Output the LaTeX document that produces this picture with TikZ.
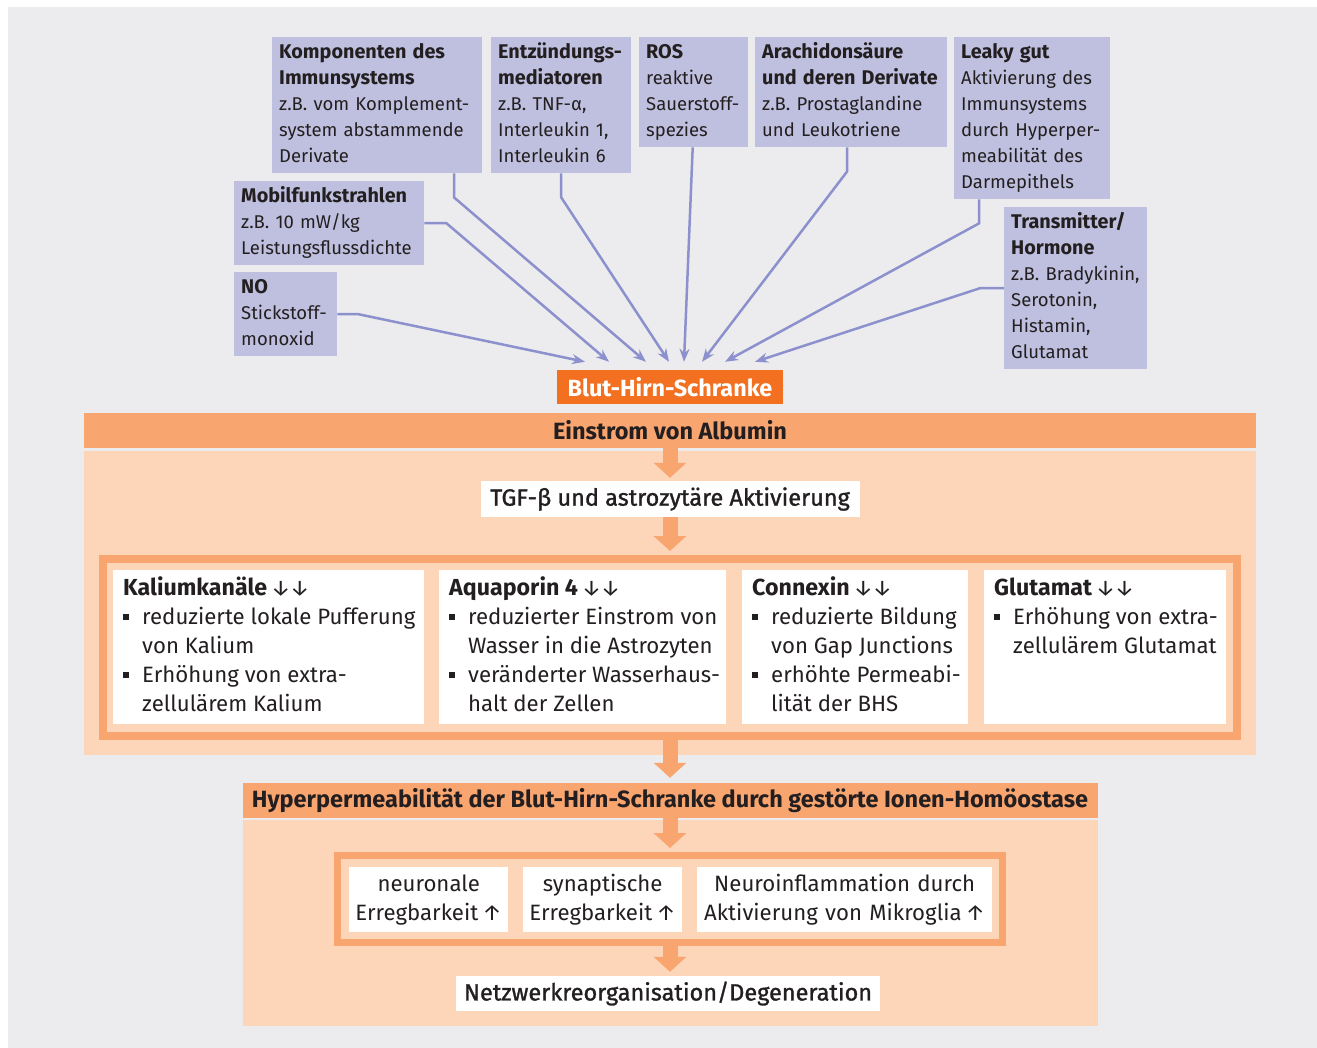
\documentclass[tikz,border=0pt]{standalone}
\usepackage{fontspec}
\setmainfont{Fira Sans}
\newfontfamily\mediumfont[FakeBold=1.2]{Fira Sans}
\usetikzlibrary{arrows.meta}
\definecolor{bggray}{RGB}{236,236,238}
\definecolor{causefill}{RGB}{191,192,223}
\definecolor{linkcol}{RGB}{140,144,204}
\definecolor{bhsorange}{RGB}{243,112,33}
\definecolor{midorange}{RGB}{249,165,112}
\definecolor{lightorange}{RGB}{253,213,184}
\definecolor{ink}{RGB}{35,31,32}
\newcommand{\causefont}{\fontsize{18.5}{26}\selectfont}
\newcommand{\cellfont}{\fontsize{22.2}{29}\selectfont}
\newcommand{\hd}[1]{{\fontsize{19.8}{26}\selectfont\bfseries #1}}
\newcommand{\chd}[1]{{\fontsize{23.2}{29}\selectfont\bfseries #1}\,↓\kern-1pt↓}
\newcommand{\rows}[1]{\begin{tabular}{@{}l@{}}#1\end{tabular}}
\newcommand{\bpt}{\makebox[19pt][l]{\rule[0.2em]{6pt}{6pt}}}
\newcommand{\cnt}{\hspace*{19pt}}
\tikzset{
    cause/.style = {fill=causefill, anchor=north west, align=left, inner xsep=7pt, inner ysep=3pt, text=ink, font=\causefont},
    barrier/.style = {fill=bhsorange, text=white, minimum width=226pt, minimum height=34pt, inner sep=0pt, font=\bfseries\fontsize{23.4}{26}\selectfont},
    band/.style = {fill=midorange, text=ink, minimum height=35pt, inner sep=0pt, font=\bfseries\fontsize{23.5}{26}\selectfont},
    stage/.style = {fill=white, text=ink, minimum height=36pt, inner sep=0pt, font=\mediumfont\fontsize{23.5}{26}\selectfont},
    ringbox/.style = {draw=midorange, line width=8pt, inner sep=0pt},
    cell/.style = {fill=white, anchor=north west, inner xsep=10pt, inner ysep=5pt, text=ink, font=\cellfont},
    effect/.style = {fill=white, anchor=north west, align=center, minimum height=65pt, inner xsep=4pt, inner ysep=0pt, text=ink, font=\cellfont},
    link/.style = {draw=linkcol, line width=2.5pt, -{Stealth[length=13pt,width=10pt]}},
    flow/.style = {draw=midorange, line width=15pt, -{Triangle[length=15pt,width=32pt]}}
}
\begin{document}
\begin{tikzpicture}[x=1pt,y=-1pt]
\useasboundingbox (0,0) rectangle (1317,1048);
\fill[white] (0,0) rectangle (1317,1048);
\fill[bggray] (8,7) rectangle (1317,1048);
\fill[lightorange] (84,451) rectangle (1256,755);
\fill[lightorange] (243,820) rectangle (1098,1026);

\node (komp) [cause, text width=196pt, minimum height=136pt] at (272,37) {\rows{\hd{Komponenten des}\\ \hd{Immunsystems}\\ z.B. vom Komplement-\\ system abstammende\\ Derivate}};
\node (entz) [cause, text width=126pt, minimum height=136pt] at (491,37) {\rows{\hd{Entzündungs-}\\ \hd{mediatoren}\\ z.B. TNF-α,\\ Interleukin 1,\\ Interleukin 6}};
\node (ros) [cause, text width=95pt, minimum height=110pt] at (639,37) {\rows{\hd{ROS}\\ reaktive\\ Sauerstoff-\\ spezies}};
\node (arach) [cause, text width=178pt, minimum height=110pt] at (755,37) {\rows{\hd{Arachidonsäure}\\ \hd{und deren Derivate}\\ z.B. Prostaglandine\\ und Leukotriene}};
\node (leaky) [cause, text width=142pt, minimum height=162pt] at (954,37) {\rows{\hd{Leaky gut}\\ Aktivierung des\\ Immunsystems\\ durch Hyperper-\\ meabilität des\\ Darmepithels}};
\node (trans) [cause, text width=129pt, minimum height=162pt] at (1004,207) {\rows{\hd{Transmitter/}\\ \hd{Hormone}\\ z.B. Bradykinin,\\ Serotonin,\\ Histamin,\\ Glutamat}};
\node (mobil) [cause, text width=176pt, minimum height=84pt] at (234,181) {\rows{\hd{Mobilfunkstrahlen}\\ z.B. 10 mW/kg\\ Leistungsflussdichte}};
\node (no) [cause, text width=89pt, minimum height=83pt] at (234,272) {\rows{\hd{NO}\\ Stickstoff-\\ monoxid}};

\node (bhs) [barrier] at (670,387) {Blut-Hirn-Schranke};

\draw [link] (no.east) -- ++(21,0) -- ([xshift=-85pt,yshift=8pt]bhs.north);
\draw [link] (mobil.east) -- ++(22,0) -- ([xshift=-61pt,yshift=8pt]bhs.north);
\draw [link] ([xshift=182pt]komp.south west) -- ++(0,24) -- ([xshift=-24pt,yshift=8pt]bhs.north);
\draw [link] (entz.south) -- ++(0,24) -- ([xshift=-1pt,yshift=8pt]bhs.north);
\draw [link] ([xshift=-1pt]ros.south) -- ([xshift=14pt,yshift=8pt]bhs.north);
\draw [link] ([xshift=-4pt]arach.south) -- ++(0,24) -- ([xshift=32pt,yshift=8pt]bhs.north);
\draw [link] ([xshift=25pt]leaky.south west) -- ++(0,24) -- ([xshift=55pt,yshift=8pt]bhs.north);
\draw [link] (trans.west) -- ++(-24,0) -- ([xshift=85pt,yshift=8pt]bhs.north);

\node (einstrom) [band, minimum width=1172pt] at (670,430.5) {Einstrom von Albumin};
\node (tgf) [stage, minimum width=379pt] at (670,499) {TGF-β und astrozytäre Aktivierung};
\node (ring) [ringbox, minimum width=1134pt, minimum height=177pt] at (670,647.5) {};

\node (kal) [cell] at (113,570) {\parbox[t][144pt][t]{291pt}{\rows{\chd{Kaliumkanäle}\\ \bpt reduzierte lokale Pufferung\\ \cnt von Kalium\\ \bpt Erhöhung von extra-\\ \cnt zellulärem Kalium}}};
\node (aqua) [cell] at (439,570) {\parbox[t][144pt][t]{267pt}{\rows{\chd{Aquaporin 4}\\ \bpt reduzierter Einstrom von\\ \cnt Wasser in die Astrozyten\\ \bpt veränderter Wasserhaus-\\ \cnt halt der Zellen}}};
\node (conn) [cell] at (742,570) {\parbox[t][144pt][t]{206pt}{\rows{\chd{Connexin}\\ \bpt reduzierte Bildung\\ \cnt von Gap Junctions\\ \bpt erhöhte Permeabi-\\ \cnt lität der BHS}}};
\node (glut) [cell] at (984,570) {\parbox[t][144pt][t]{222pt}{\rows{\chd{Glutamat}\\ \bpt Erhöhung von extra-\\ \cnt zellulärem Glutamat}}};

\node (hyper) [band, minimum width=855pt] at (670,800.5) {Hyperpermeabilität der Blut-Hirn-Schranke durch gestörte Ionen-Homöostase};
\node (ring2) [ringbox, line width=7pt, minimum width=665pt, minimum height=87pt] at (670,899) {};

\node (neur) [effect, text width=151pt] at (349,867) {neuronale\\ Erregbarkeit\,↑};
\node (syn) [effect, text width=151pt] at (523,867) {synaptische\\ Erregbarkeit\,↑};
\node (infl) [effect, text width=287pt] at (697,867) {Neuroinflammation durch\\ Aktivierung von Mikroglia\,↑};

\node (netz) [stage, minimum width=424pt, minimum height=35pt] at (668,993.5) {Netzwerkreorganisation/Degeneration};

\draw [flow] (einstrom.south) -- ([yshift=3pt]tgf.north);
\draw [flow] (tgf.south) -- ([yshift=4pt]ring.north);
\draw [flow] (ring.south) -- ([yshift=5pt]hyper.north);
\draw [flow] (hyper.south) -- ([yshift=4pt]ring2.north);
\draw [flow] (ring2.south) -- ([yshift=4pt]ring2.south |- netz.north);
\end{tikzpicture}
\end{document}
